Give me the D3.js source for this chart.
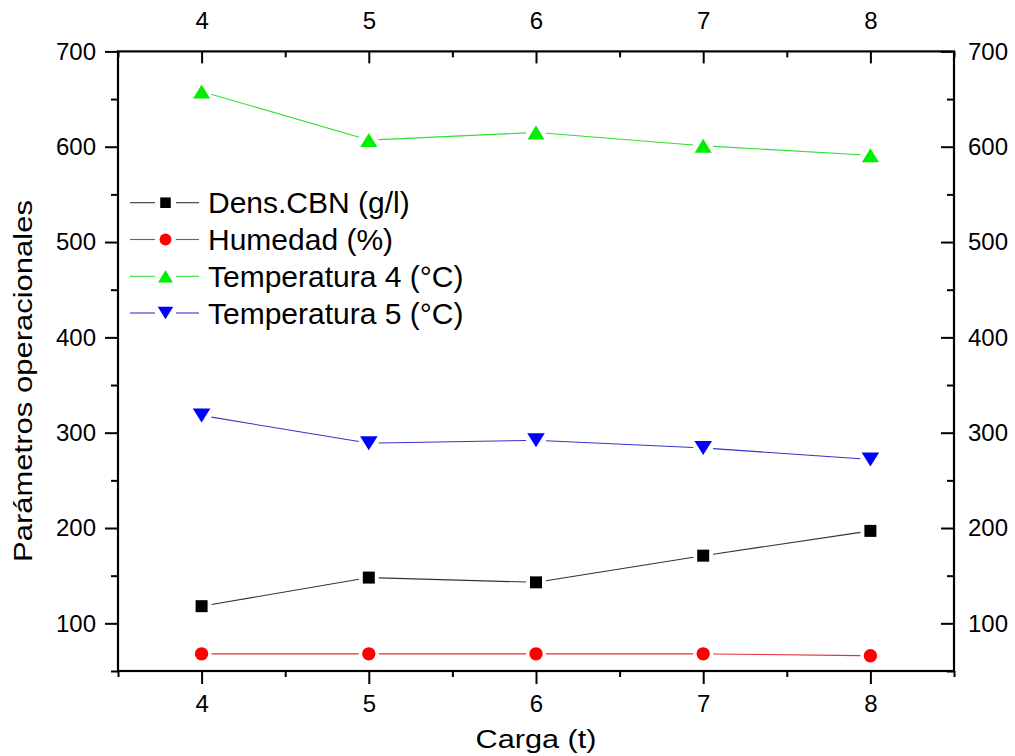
<!DOCTYPE html>
<html>
<head>
<meta charset="utf-8">
<script src="https://cdn.jsdelivr.net/npm/d3@7"></script>
<style>
  html, body { margin: 0; padding: 0; background: #fff; }
  svg { display: block; font-family: "Liberation Sans", Arial, sans-serif; }
</style>
</head>
<body>
<svg id="chart" width="1015" height="756"></svg>
<script>
// ---- data ----
const carga = [4, 5, 6, 7, 8];
const densCBN = [118, 148, 143, 171, 197];
const humedad = [68, 68, 68, 68, 66];
const temp4 = [658, 607, 615, 601, 591];
const temp5 = [318, 289, 292, 284, 272];
const seriesNames = ["Dens.CBN (g/l)", "Humedad (%)", "Temperatura 4 (\u00B0C)", "Temperatura 5 (\u00B0C)"];
const xTicks = [4, 5, 6, 7, 8];
const xMinorTicks = [3.5, 4.5, 5.5, 6.5, 7.5, 8.5];
const yTicks = [100, 200, 300, 400, 500, 600, 700];
const yMinorTicks = [50, 150, 250, 350, 450, 550, 650];
const xTitle = "Carga (t)";
const yTitle = "Par\u00E1metros operacionales";

// ---- layout ----
const L = 118, R = 954, T = 51.4, B = 671;
const svg = d3.select("#chart");
const x = d3.scaleLinear().domain([3.5, 8.5]).range([L, R]);
const y = d3.scaleLinear().domain([50, 700]).range([B, T]);

const series = [
  { name: seriesNames[0], values: densCBN, marker: "square", fill: "#000000", line: "#333333" },
  { name: seriesNames[1], values: humedad, marker: "circle", fill: "#ff0000", line: "#e0303a" },
  { name: seriesNames[2], values: temp4, marker: "up", fill: "#00ee00", line: "#33dd33" },
  { name: seriesNames[3], values: temp5, marker: "down", fill: "#0000ff", line: "#3333cc" }
];

function markerPath(type, s) {
  if (type === "square") { const h = 6 * s; return `M${-h},${-h}H${h}V${h}H${-h}Z`; }
  if (type === "circle") { const r = 6.7 * s; return `M${r},0A${r},${r} 0 1,1 ${-r},0A${r},${r} 0 1,1 ${r},0Z`; }
  if (type === "up") { const w = 8.5 * s, h = 7 * s; return `M0,${-h}L${w},${h}L${-w},${h}Z`; }
  if (type === "down") { const w = 8.8 * s, h = 7 * s; return `M0,${h}L${w},${-h}L${-w},${-h}Z`; }
}

// ---- axes ----
const fmt = d3.format("d");
function styleAxis(g) {
  g.select(".domain").remove();
  g.selectAll(".tick line").attr("stroke", "#000").attr("stroke-width", 2);
  g.selectAll(".tick text").attr("font-size", 24).attr("fill", "#000")
    .attr("font-family", "'Liberation Sans', Arial, sans-serif");
}
// bottom
svg.append("g").attr("transform", `translate(0,${B})`)
  .call(d3.axisBottom(x).tickValues(xTicks).tickFormat(fmt).tickSize(13).tickPadding(11))
  .call(styleAxis);
svg.append("g").attr("transform", `translate(0,${B})`)
  .call(d3.axisBottom(x).tickValues(xMinorTicks).tickFormat("").tickSize(6))
  .call(styleAxis);
// top (ticks inward, labels above)
const topAx = svg.append("g").attr("transform", `translate(0,${T})`)
  .call(d3.axisTop(x).tickValues(xTicks).tickFormat(fmt).tickSize(0).tickPadding(22))
  .call(styleAxis);
topAx.selectAll(".tick line").attr("y2", 12);
const topMin = svg.append("g").attr("transform", `translate(0,${T})`)
  .call(d3.axisTop(x).tickValues(xMinorTicks).tickFormat("").tickSize(0))
  .call(styleAxis);
topMin.selectAll(".tick line").attr("y2", 6);
// left
svg.append("g").attr("transform", `translate(${L},0)`)
  .call(d3.axisLeft(y).tickValues(yTicks).tickFormat(fmt).tickSize(13).tickPadding(9))
  .call(styleAxis);
svg.append("g").attr("transform", `translate(${L},0)`)
  .call(d3.axisLeft(y).tickValues(yMinorTicks).tickFormat("").tickSize(7))
  .call(styleAxis);
// right (ticks inward, labels outside)
const rightAx = svg.append("g").attr("transform", `translate(${R},0)`)
  .call(d3.axisRight(y).tickValues(yTicks).tickFormat(fmt).tickSize(0).tickPadding(14))
  .call(styleAxis);
rightAx.selectAll(".tick line").attr("x2", -13);
const rightMin = svg.append("g").attr("transform", `translate(${R},0)`)
  .call(d3.axisRight(y).tickValues(yMinorTicks).tickFormat("").tickSize(0))
  .call(styleAxis);
rightMin.selectAll(".tick line").attr("x2", -7);

// frame
svg.append("rect").attr("x", L).attr("y", T).attr("width", R - L).attr("height", B - T)
  .attr("fill", "none").attr("stroke", "#000").attr("stroke-width", 2.2);

// ---- series ----
const gap = 10;
series.forEach(s => {
  const pts = carga.map((c, i) => [x(c), y(s.values[i])]);
  const g = svg.append("g");
  for (let i = 0; i < pts.length - 1; i++) {
    const [x1, y1] = pts[i], [x2, y2] = pts[i + 1];
    const dx = x2 - x1, dy = y2 - y1, len = Math.hypot(dx, dy);
    const ux = dx / len, uy = dy / len;
    g.append("line")
      .attr("x1", x1 + ux * gap).attr("y1", y1 + uy * gap)
      .attr("x2", x2 - ux * gap).attr("y2", y2 - uy * gap)
      .attr("stroke", s.line).attr("stroke-width", 1.1);
  }
  g.selectAll("path.m").data(pts).enter().append("path")
    .attr("class", "m")
    .attr("transform", d => `translate(${d[0]},${d[1]})`)
    .attr("d", markerPath(s.marker, 1))
    .attr("fill", s.fill);
});

// ---- legend ----
const legend = svg.append("g");
const legY = [202.7, 239.5, 276.3, 313];
series.forEach((s, i) => {
  const cy = legY[i];
  legend.append("line").attr("x1", 130).attr("x2", 155).attr("y1", cy).attr("y2", cy)
    .attr("stroke", s.line).attr("stroke-width", 1.1);
  legend.append("line").attr("x1", 176).attr("x2", 199).attr("y1", cy).attr("y2", cy)
    .attr("stroke", s.line).attr("stroke-width", 1.1);
  legend.append("path").attr("transform", `translate(165.5,${cy})`)
    .attr("d", markerPath(s.marker, 0.88)).attr("fill", s.fill);
  legend.append("text").attr("x", 208).attr("y", cy + 10.5)
    .attr("font-size", 30).attr("fill", "#000").text(s.name);
});

// ---- titles ----
svg.append("text").attr("x", 536).attr("y", 748).attr("text-anchor", "middle")
  .attr("font-size", 26).attr("textLength", 121).attr("lengthAdjust", "spacingAndGlyphs")
  .attr("fill", "#000").text(xTitle);
svg.append("text").attr("transform", "translate(32,381) rotate(-90)").attr("text-anchor", "middle")
  .attr("font-size", 26).attr("textLength", 362).attr("lengthAdjust", "spacingAndGlyphs")
  .attr("fill", "#000").text(yTitle);
</script>
</body>
</html>
